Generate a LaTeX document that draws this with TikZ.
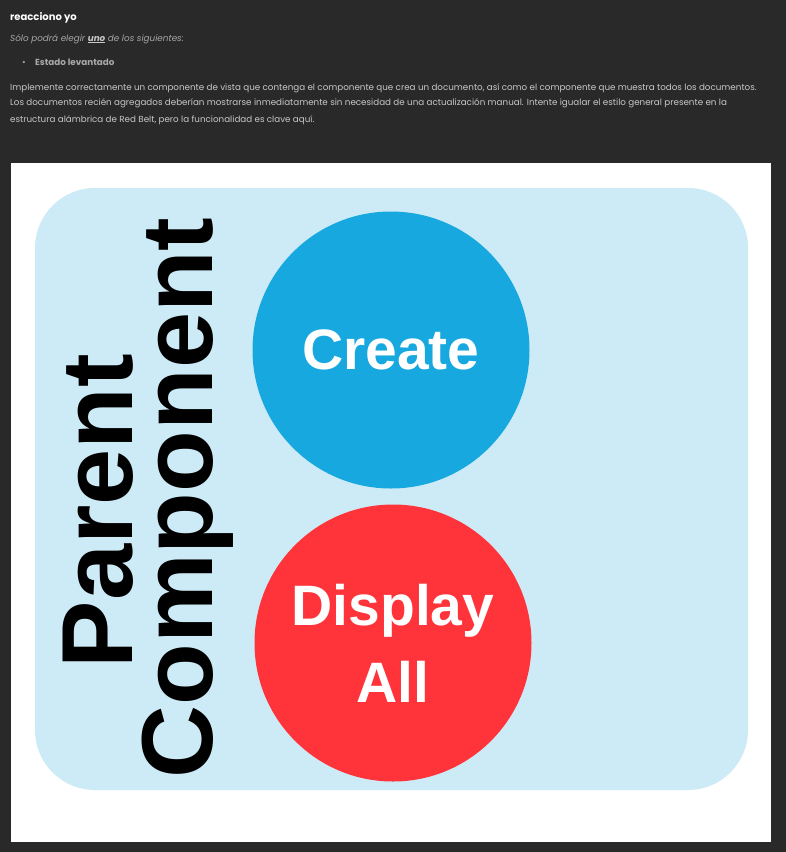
\documentclass[tikz,border=0pt]{standalone}
\usepackage{fontspec}
\setmainfont{Poppins}
\newfontfamily\arialfont{Liberation Sans}
\definecolor{darkbg}{HTML}{292929}
\definecolor{panelblue}{HTML}{CDEBF6}
\definecolor{createblue}{HTML}{17A8DF}
\definecolor{displayred}{HTML}{FF343A}
\definecolor{graytxt}{HTML}{A8A8A8}
\definecolor{paratxt}{HTML}{C8C8C8}
\tikzset{
  hdr/.style={anchor=base west, inner sep=0pt, font=\fontsize{8.75}{10}\selectfont, text=paratxt},
  bigcircle/.style={circle, minimum size=277pt, inner sep=0pt, text=white, align=center,
    font=\arialfont\bfseries\fontsize{57}{77}\selectfont},
  sidetext/.style={anchor=base, rotate=90, inner sep=0pt, font=\arialfont\bfseries\fontsize{101}{101}\selectfont}
}
\begin{document}
\begin{tikzpicture}[x=1pt,y=-1pt]
\fill[darkbg] (0,0) rectangle (786,852);
\useasboundingbox (0,0) rectangle (786,852);
% header
\node[hdr, text=white, font=\bfseries\fontsize{10}{12}\selectfont] (title) at (10,20) {reacciono yo};
\node[hdr, text=graytxt, font=\itshape\fontsize{8.8}{10}\selectfont] (choose) at (10,41)
  {Sólo podrá elegir \textcolor{paratxt}{\bfseries\underline{uno}} de los siguientes:};
\node[hdr, text=graytxt, font=\fontsize{8.8}{10}\selectfont] (bullet) at (22,65) {•};
\node[hdr, text=graytxt, font=\bfseries\fontsize{8.8}{10}\selectfont] (state) at (35,65) {Estado levantado};
\node[hdr] (p1) at (10,90) {Implemente correctamente un componente de vista que contenga el componente que crea un documento, así como el componente que muestra todos los documentos.};
\node[hdr] (p2) at (10,105) {Los documentos recién agregados deberían mostrarse inmediatamente sin necesidad de una actualización manual. Intente igualar el estilo general presente en la};
\node[hdr] (p3) at (10,122) {estructura alámbrica de Red Belt, pero la funcionalidad es clave aquí.};
% image panel
\fill[white] (11,163) rectangle (771,842);
\fill[panelblue, rounded corners=60pt] (35,188) rectangle (748,790);
\node[bigcircle, fill=createblue] (create) at (391,350) {Create};
\node[bigcircle, fill=displayred] (display) at (393,643) {Display\\All};
\node[sidetext] (parent) at (132,511) {Parent};
\node[sidetext] (component) at (212,498) {Component};
\end{tikzpicture}
\end{document}
